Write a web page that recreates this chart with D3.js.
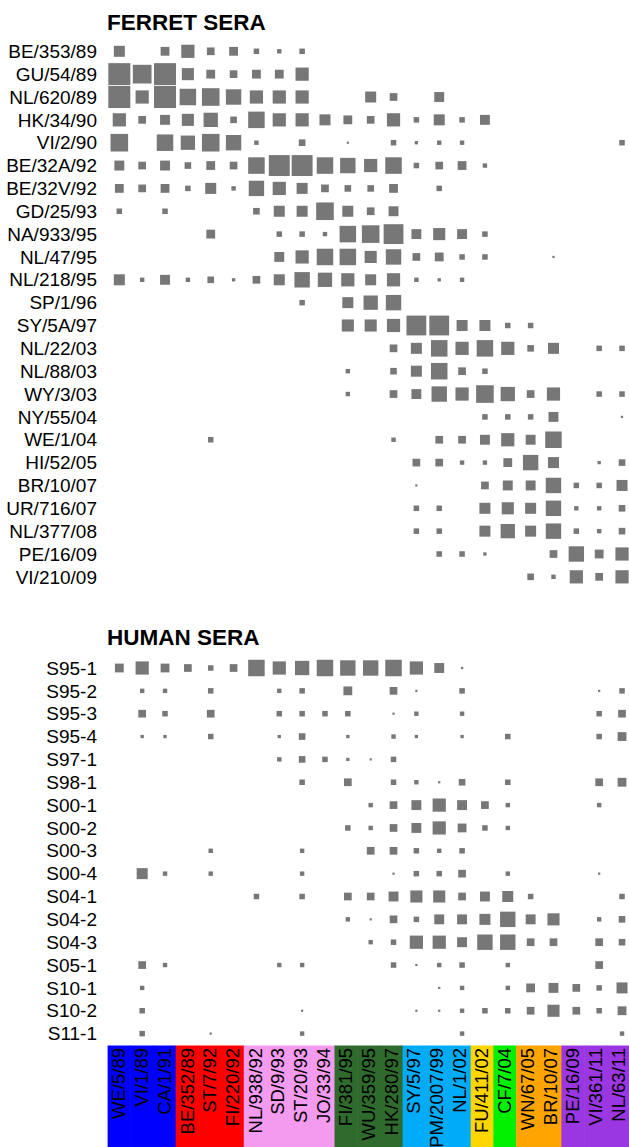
<!DOCTYPE html>
<html>
<head>
<meta charset="utf-8">
<script src="https://cdn.jsdelivr.net/npm/d3@7"></script>
<style>
  body { margin: 0; background: #fff; }
  text { font-family: "Liberation Sans", Arial, Helvetica, sans-serif; }
</style>
</head>
<body>
<svg id="chart"></svg>
<script>
// Test antigens (columns) and the antigenic cluster each one belongs to
const antigens = ["WE/5/89", "VI/1/89", "CA/1/91", "BE/352/89", "ST/7/92", "FI/220/92",
  "NL/938/92", "SD/9/93", "ST/20/93", "JO/33/94", "FI/381/95", "WU/359/95", "HK/280/97",
  "SY/5/97", "PM/2007/99", "NL/1/02", "FU/411/02", "CF/7/04", "WN/67/05", "BR/10/07",
  "PE/16/09", "VI/361/11", "NL/63/11"];
const antigenCluster = [0, 0, 0, 1, 1, 1, 2, 2, 2, 2, 3, 3, 3, 4, 4, 4, 5, 6, 7, 7, 8, 8, 8];

// Ferret antisera (rows) and their titers, log2 level (0 = none)
const ferretSera = ["BE/353/89", "GU/54/89", "NL/620/89", "HK/34/90", "VI/2/90", "BE/32A/92",
  "BE/32V/92", "GD/25/93", "NA/933/95", "NL/47/95", "NL/218/95", "SP/1/96", "SY/5A/97",
  "NL/22/03", "NL/88/03", "WY/3/03", "NY/55/04", "WE/1/04", "HI/52/05", "BR/10/07",
  "UR/716/07", "NL/377/08", "PE/16/09", "VI/210/09"];
const ferretTiters = [
  [5,0,4,6,3.5,4,2.5,2,2.5,0,0,0,0,0,0,0,0,0,0,0,0,0,0],
  [10,8.5,10,5.5,4,3.5,4,4,6,0,0,0,0,0,0,0,0,0,0,0,0,0,0],
  [10,6,10,7.5,8,7,6,6,6,0,0,5,3.5,0,4.5,0,0,0,0,0,0,0,0],
  [6,3.5,4.5,5.5,6.5,3,7.5,6,6,5,4,3.5,6,2.5,5,2.5,4.5,0,0,0,0,0,0],
  [8,0,7.5,6.5,8,7,2,0,3,0,1,0,2.5,1.5,2,2,0,0,0,0,0,0,2.5],
  [4.5,3.5,4.5,3,4,3.5,7.5,9.5,9.5,7.5,7,6,7.5,2.5,3.5,4,2,0,0,0,0,0,0],
  [4,3.5,4,2.5,5,2,7,6,5,3.5,3,3,4,0,2.5,0,0,0,0,0,0,0,0],
  [2.5,0,2.5,0,0,0,3,5,5,8,5,3.5,4.5,0,0,0,0,0,0,0,0,0,0],
  [0,0,0,0,4,0,0,2.5,2.5,2,7.5,8,9,4.5,5.5,4.5,2.5,0,0,0,0,0,0],
  [0,0,0,0,0,0,0,4.5,6,7.5,7.5,5.5,7,3.5,4,2.5,2.5,0,0,1,0,0,0],
  [5,2,4.5,2,3,1.5,3.5,5,7,6.5,6,5,6,2,1.5,2,0,0,0,0,0,0,0],
  [0,0,0,0,0,0,0,0,2.5,0,5,6.5,7,0,0,0,0,0,0,0,0,0,0],
  [0,0,0,0,0,0,0,0,0,0,5.5,5.5,6,9,9,5,5,2.5,2.5,0,0,0,0],
  [0,0,0,0,0,0,0,0,0,0,0,0,3.5,5,7.5,6,7.5,6,3,5,0,2.5,2.5],
  [0,0,0,0,0,0,0,0,0,0,2,0,3,5,7.5,3.5,2.5,0,0,0,0,0,0],
  [0,0,0,0,0,0,0,0,0,0,2,0,3.5,4.5,7,6,8,6.5,3.5,6,0,2.5,2.5],
  [0,0,0,0,0,0,0,0,0,0,0,0,0,0,0,0,2.5,2.5,2.5,4.5,0,0,1],
  [0,0,0,0,2.5,0,0,0,0,0,0,0,2,0,3.5,3.5,4.5,6,4.5,7.5,0,0,0],
  [0,0,0,0,0,0,0,0,0,0,0,0,0,3.5,3.5,2,2,4,7,5,0,1.5,3],
  [0,0,0,0,0,0,0,0,0,0,0,0,0,1,0,0,3.5,4.5,4.5,7,2.5,2.5,5],
  [0,0,0,0,0,0,0,0,0,0,0,0,0,2.5,2.5,0,5,5.5,5,7,2,2,3],
  [0,0,0,0,0,0,0,0,0,0,0,0,0,2.5,2.5,0,5,6.5,5,7,2.5,2,3],
  [0,0,0,0,0,0,0,0,0,0,0,0,0,0,2.5,2.5,1.5,0,0,3.5,7,4,6],
  [0,0,0,0,0,0,0,0,0,0,0,0,0,0,0,0,0,0,3,2,6,3.5,6]
];

// Human sera (rows) and their titers
const humanSera = ["S95-1", "S95-2", "S95-3", "S95-4", "S97-1", "S98-1", "S00-1", "S00-2",
  "S00-3", "S00-4", "S04-1", "S04-2", "S04-3", "S05-1", "S10-1", "S10-2", "S11-1"];
const humanTiters = [
  [4,6,4,3.5,2.5,3.5,7.5,6,6.5,7.5,7,7,7.5,6,4.5,1,0,0,0,0,0,0,0],
  [0,2,2,0,2.5,0,0,2,2.5,0,4,0,3.5,1,0,2.5,0,0,0,0,0,1,2.5],
  [0,3.5,2.5,0,3.5,0,0,2.5,2.5,2.5,2.5,0,1,2,0,2,0,0,0,0,0,2.5,3.5],
  [0,1.5,1.5,0,2.5,0,0,1.5,3,0,1.5,0,2,1.5,0,1.5,0,2.5,0,0,0,2.5,4],
  [0,0,0,0,0,0,0,2,3,2.5,1.5,1,2.5,0,0,0,0,0,0,0,0,0,0],
  [0,0,0,0,0,0,0,0,2.5,0,3.5,0,2.5,2,1,3,0,2.5,0,0,0,3.5,4],
  [0,0,0,0,0,0,0,0,0,0,0,2,3.5,4.5,6,4.5,3.5,2,0,0,0,2,0],
  [0,0,0,0,0,0,0,0,0,0,2.5,2,3.5,4.5,6,4,2.5,2,0,0,0,0,0],
  [0,0,0,0,2,0,0,0,2,0,0,3.5,3.5,2.5,2,2.5,0,0,0,0,0,0,0],
  [0,5,2,0,2,0,0,0,2,0,0,0,1,2.5,2.5,3.5,0,2,0,0,0,1,0],
  [0,0,0,0,0,0,2.5,0,2.5,0,3.5,3.5,4.5,5.5,5.5,3.5,4.5,5,2.5,0,0,0,2.5],
  [0,0,0,0,0,0,0,0,0,0,2,1,3.5,2.5,4.5,4.5,5,7,4.5,5.5,0,2,3],
  [0,0,0,0,0,0,0,0,0,0,0,2,2.5,6,6,4.5,7,7,3.5,3.5,0,3.5,3],
  [0,3.5,2,0,0,0,0,2,2,0,0,0,2.5,1,2,2.5,0,2,0,0,0,3.5,0],
  [0,2,0,0,0,0,0,0,0,0,0,0,0,0,1,2,0,2,4,4.5,3.5,2.5,5],
  [0,2.5,0,0,0,0,0,0,1,0,0,0,0,1,1,2,2.5,2.5,3.5,5.5,3.5,2.5,4],
  [0,2.5,0,0,1,0,0,0,2,0,0,0,0,0,0,2,0,0,0,0,0,0,2]
];

const width = 629;
const height = 1147;
const svg = d3.select("#chart").attr("width", width).attr("height", height);

const cell = 22.85;
const xScale = d3.scaleBand().domain(antigens).range([107.9, 107.9 + antigens.length * cell]);
const stripScale = d3.scaleBand().domain(antigens).range([107.6, 629.5]);
const sizeScale = d3.scaleLinear().domain([0, 10]).range([0, 22]);
const clusterColor = d3.scaleOrdinal()
  .domain(d3.range(9))
  .range(["#0000ff", "#ff0000", "#f49bf0", "#2f6b2c", "#00abf8", "#ffd600", "#00f000", "#ffa400", "#9b37e2"]);

const panel = (title, sera, titers, top, titleY) => {
  const yScale = d3.scaleBand().domain(sera).range([top, top + sera.length * cell]);
  const g = svg.append("g");

  g.append("text")
    .attr("x", 107)
    .attr("y", titleY)
    .attr("font-size", 22.5)
    .attr("font-weight", "bold")
    .text(title);

  g.selectAll("text.row")
    .data(sera)
    .join("text")
    .attr("class", "row")
    .attr("x", 97)
    .attr("y", (d) => yScale(d) + yScale.bandwidth() / 2)
    .attr("dy", "0.35em")
    .attr("text-anchor", "end")
    .attr("font-size", 19)
    .text((d) => d);

  const cells = [];
  titers.forEach((row, i) => {
    row.forEach((v, j) => {
      if (v > 0) cells.push({ serum: sera[i], antigen: antigens[j], v: v });
    });
  });

  g.selectAll("rect")
    .data(cells)
    .join("rect")
    .attr("x", (d) => xScale(d.antigen) + xScale.bandwidth() / 2 - sizeScale(d.v) / 2)
    .attr("y", (d) => yScale(d.serum) + yScale.bandwidth() / 2 - sizeScale(d.v) / 2)
    .attr("width", (d) => sizeScale(d.v))
    .attr("height", (d) => sizeScale(d.v))
    .attr("fill", "#777");
};

panel("FERRET SERA", ferretSera, ferretTiters, 51.3 - cell / 2, 30);
panel("HUMAN SERA", humanSera, humanTiters, 668 - cell / 2, 644.5);

// Cluster colour strip with antigen names
const strip = svg.append("g");
const stripTop = 1045.5;
strip.selectAll("rect")
  .data(antigens)
  .join("rect")
  .attr("x", (d) => stripScale(d))
  .attr("y", stripTop)
  .attr("width", stripScale.bandwidth() + 0.6)
  .attr("height", height - stripTop)
  .attr("fill", (d, i) => clusterColor(antigenCluster[i]));

strip.selectAll("text")
  .data(antigens)
  .join("text")
  .attr("transform", (d) => `translate(${stripScale(d) + stripScale.bandwidth() / 2},${stripTop + 2.5}) rotate(-90)`)
  .attr("dy", "0.35em")
  .attr("text-anchor", "end")
  .attr("font-size", 18.5)
  .attr("fill", "#000")
  .text((d) => d);
</script>
</body>
</html>
